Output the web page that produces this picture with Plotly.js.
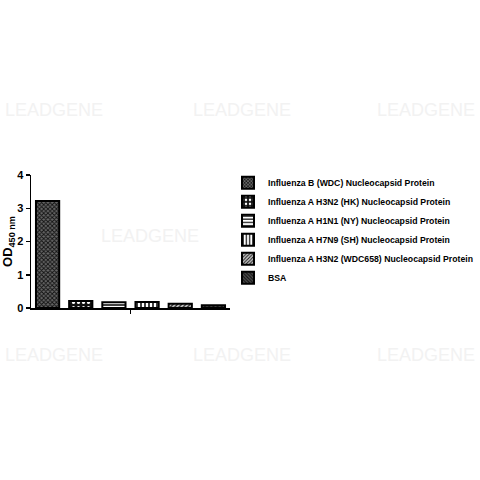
<!DOCTYPE html>
<html>
<head>
<meta charset="utf-8">
<script src="https://cdn.plot.ly/plotly-3.0.1.min.js"></script>
<style>body{margin:0;background:#fff}#chart{width:480px;height:480px}</style>
</head>
<body>
<div id="chart"></div>
<script>
const names = [
  "Influenza B (WDC) Nucleocapsid Protein",
  "Influenza A H3N2 (HK) Nucleocapsid Protein",
  "Influenza A H1N1 (NY) Nucleocapsid Protein",
  "Influenza A H7N9 (SH) Nucleocapsid Protein",
  "Influenza A H3N2 (WDC658) Nucleocapsid Protein",
  "BSA"
];
const od450 = [3.22, 0.21, 0.17, 0.18, 0.13, 0.08];
const yTicks = [0, 1, 2, 3, 4];

const patterns = [
  {shape: "x", fgcolor: "#111", bgcolor: "#666", size: 3, solidity: 0.5},
  {shape: ".", fgcolor: "#fff", bgcolor: "#111", size: 5, solidity: 0.3},
  {shape: "-", fgcolor: "#111", bgcolor: "#fff", size: 4, solidity: 0.4},
  {shape: "|", fgcolor: "#111", bgcolor: "#fff", size: 4, solidity: 0.4},
  {shape: "/", fgcolor: "#111", bgcolor: "#ccc", size: 3, solidity: 0.4},
  {shape: "\\", fgcolor: "#111", bgcolor: "#555", size: 3, solidity: 0.5}
];

const traces = names.map(function (n, i) {
  return {
    type: "bar",
    x: [i],
    y: [od450[i]],
    name: "<b>" + n + "</b>",
    legendgroup: "g" + i,
    width: 0.7,
    marker: {
      color: "#fff",
      pattern: patterns[i],
      line: {color: "#000", width: 2}
    },
    hoverinfo: "skip"
  };
});

// faint watermark text
const wm = [];
[[54, 110], [242, 110], [426, 110], [150, 236], [54, 355], [242, 355], [426, 355]].forEach(function (p) {
  wm.push({
    xref: "paper", yref: "paper",
    x: (p[0] - 31) / 449, y: (480 - 172.3 - p[1]) / 133,
    xanchor: "center", yanchor: "middle",
    text: "LEADGENE", showarrow: false,
    font: {family: "Liberation Sans", size: 18, color: "#f2f2f2"}
  });
});

const layout = {
  width: 480,
  height: 480,
  margin: {l: 31, r: 0, t: 174.7, b: 172.3, autoexpand: false},
  paper_bgcolor: "#fff",
  plot_bgcolor: "rgba(0,0,0,0)",
  font: {family: "Liberation Sans, Arial, sans-serif", color: "#000"},
  showlegend: true,
  xaxis: {
    domain: [0, 199 / 449],
    range: [-0.5, 5.5],
    showline: true,
    linecolor: "#000",
    linewidth: 1.5,
    showgrid: false,
    zeroline: false,
    tickvals: [2.5],
    showticklabels: false,
    ticks: "outside",
    ticklen: 4,
    tickwidth: 1.5,
    tickcolor: "#000",
    automargin: false
  },
  yaxis: {
    range: [0, 4],
    tickvals: yTicks,
    ticktext: yTicks.map(function (v) { return "<b>" + v + "</b>"; }),
    showline: true,
    linecolor: "#000",
    linewidth: 1.5,
    showgrid: false,
    zeroline: false,
    ticks: "outside",
    ticklen: 4,
    tickwidth: 1.5,
    tickcolor: "#000",
    tickfont: {size: 11},
    automargin: false,
    title: {
      text: "<b>OD<sub>450 nm</sub></b>",
      font: {size: 13},
      standoff: 6
    }
  },
  legend: {
    x: (228 - 31) / 449,
    xanchor: "left",
    y: 1.05,
    yanchor: "top",
    font: {size: 8.7},
    bgcolor: "rgba(0,0,0,0)",
    tracegroupgap: 0,
    itemwidth: 30
  },
  annotations: wm
};

Plotly.newPlot("chart", traces, layout, {displayModeBar: false, staticPlot: true});
</script>
</body>
</html>
